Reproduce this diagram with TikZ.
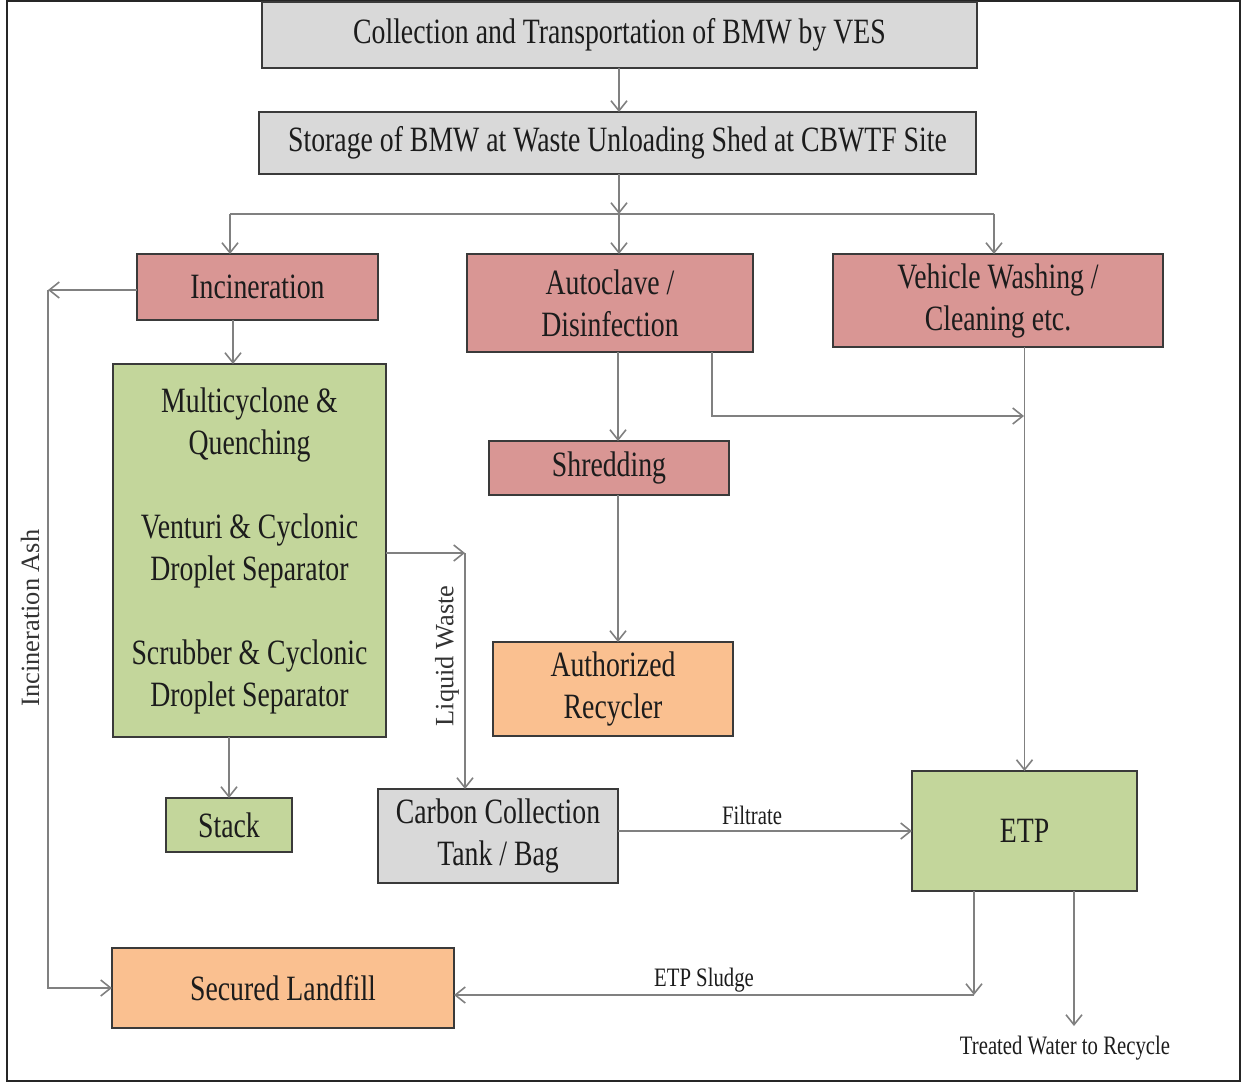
\documentclass[tikz,border=0pt]{standalone}
\usepackage{fontspec}
\setmainfont{Liberation Serif}[FakeStretch=0.78]
\newfontfamily\plainserif{Liberation Serif}
\usetikzlibrary{arrows.meta}
\definecolor{boxgray}{HTML}{D9D9D9}
\definecolor{boxpink}{HTML}{D99694}
\definecolor{boxgreen}{HTML}{C3D69B}
\definecolor{boxorange}{HTML}{FAC090}
\definecolor{edgecol}{HTML}{3A3A3A}
\definecolor{concol}{HTML}{808080}
\definecolor{txtcol}{HTML}{1C1C1C}
\tikzset{
  box/.style={draw=edgecol, line width=1pt, inner sep=0pt, outer sep=0pt, align=center,
    text=txtcol, font=\fontsize{17.8}{21}\selectfont},
  graybox/.style={box, fill=boxgray},
  pinkbox/.style={box, fill=boxpink},
  greenbox/.style={box, fill=boxgreen},
  orangebox/.style={box, fill=boxorange},
  con/.style={draw=concol, line width=0.8pt},
  arr/.style={con, -{Straight Barb[length=5pt,width=8pt]}},
  smalllab/.style={text=txtcol, inner sep=0pt, font=\fontsize{13.3}{15}\selectfont},
  rotlab/.style={text=txtcol!90, inner sep=0pt, font=\plainserif\fontsize{13.2}{15}\selectfont, rotate=90}
}
\begin{document}
\begin{tikzpicture}[x=0.5pt,y=-0.5pt]
\useasboundingbox (0,0) rectangle (1247,1084);
\draw[line width=1.1pt, black!85] (7,1) rectangle (1240,1081);

% boxes
\node[graybox, minimum width=357.5pt, minimum height=33pt] (b1) at (619.5,35) {Collection and Transportation of BMW by VES};
\node[graybox, minimum width=358.5pt, minimum height=31pt] (b2) at (617.5,143) {Storage of BMW at Waste Unloading Shed at CBWTF Site};
\node[pinkbox, minimum width=120.5pt, minimum height=33pt] (incin) at (257.5,287) {Incineration};
\node[pinkbox, minimum width=143pt, minimum height=49pt] (auto) at (610,303) {Autoclave /\\Disinfection};
\node[pinkbox, minimum width=165pt, minimum height=46.5pt] (veh) at (998,300.5) {Vehicle Washing /\\Cleaning etc.};
\node[greenbox, minimum width=136.5pt, minimum height=186.5pt] (green) at (249.5,550.5) {Multicyclone \&\\Quenching\\[21pt]Venturi \& Cyclonic\\Droplet Separator\\[21pt]Scrubber \& Cyclonic\\Droplet Separator};
\node[greenbox, minimum width=63pt, minimum height=27pt] (stack) at (229,825) {Stack};
\node[pinkbox, minimum width=120pt, minimum height=27pt] (shred) at (609,468) {Shredding};
\node[orangebox, minimum width=120pt, minimum height=47pt] (recyc) at (613,689) {Authorized\\Recycler};
\node[graybox, minimum width=120pt, minimum height=47pt] (carbon) at (498,836) {Carbon Collection\\Tank / Bag};
\node[greenbox, minimum width=112.5pt, minimum height=60pt] (etp) at (1024.5,831) {ETP};
\node[orangebox, minimum width=171pt, minimum height=40pt] (land) at (283,988) {Secured Landfill};

% helper coordinates
\coordinate (split) at (619,214);
\coordinate (splitL) at (230,214);
\coordinate (splitR) at (994,214);
\coordinate (ashTop) at (48,290);
\coordinate (xIG) at (233,0);
\coordinate (lw) at (465,553);
\coordinate (xA) at (618,0);
\coordinate (xB) at (712,0);
\coordinate (wj) at (1024,416);
\coordinate (sl) at (974,995);
\coordinate (twEnd) at (1074,1026);

% connectors
\draw[arr] (b1.south -| split) -- (b2.north -| split);
\draw[arr] (b2.south -| split) -- (split);
\draw[con] (splitL) -- (splitR);
\draw[arr] (splitL) -- (splitL |- incin.north);
\draw[arr] (split) -- (split |- auto.north);
\draw[arr] (splitR) -- (splitR |- veh.north);

\draw[arr] (incin.west |- ashTop) -- (ashTop);
\draw[arr] (ashTop) |- (land.west);
\node[rotlab] (ashlab) at (30,618) {Incineration Ash};

\draw[arr] (incin.south -| xIG) -- (green.north -| xIG);
\draw[arr] (green.east |- lw) -- (lw);
\draw[arr] (lw) -- (lw |- carbon.north);
\node[rotlab] (lwlab) at (447,656) {Liquid Waste};
\draw[arr] (green.south -| stack.north) -- (stack.north);

\draw[arr] (auto.south -| xA) -- (shred.north -| xA);
\draw[arr] (shred.south -| xA) -- (recyc.north -| xA);
\draw[arr] (auto.south -| xB) |- (wj);
\draw[arr] (veh.south -| etp.north) -- (etp.north);

\draw[arr] (carbon.east |- etp.west) -- (etp.west);
\node[smalllab] (filt) at (752,815) {Filtrate};

\draw[arr] (etp.south -| sl) -- (sl);
\draw[arr] (sl) -- (land.east |- sl);
\node[smalllab] (sludge) at (704,980) {ETP Sludge};

\draw[arr] (etp.south -| twEnd) -- (twEnd);
\node[smalllab] (tw) at (1065,1048) {Treated Water to Recycle};
\end{tikzpicture}
\end{document}
